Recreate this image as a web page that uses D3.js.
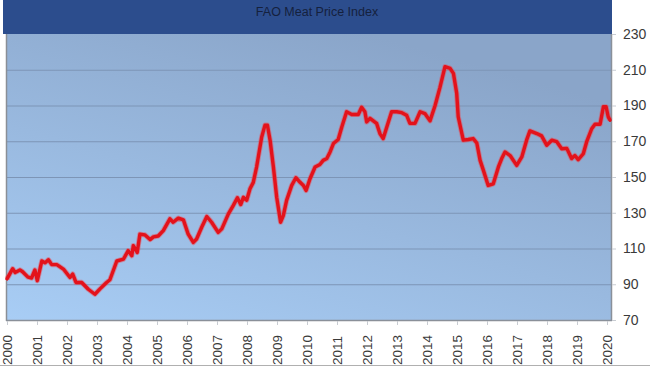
<!DOCTYPE html>
<html><head><meta charset="utf-8">
<script src="https://cdn.jsdelivr.net/npm/d3@7"></script>
<style>body{margin:0;background:#fff;}svg{display:block;}</style>
</head><body>
<svg id="chart" width="650" height="366"></svg>
<script>
const title = "FAO Meat Price Index";
const yearTicks = d3.range(2000, 2021);
const valueTicks = [70, 90, 110, 130, 150, 170, 190, 210, 230];
const times = [2000.00,2000.19,2000.27,2000.43,2000.52,2000.70,2000.82,2000.93,2001.01,2001.16,2001.27,2001.38,2001.49,2001.66,2001.88,
 2002.10,2002.19,2002.30,2002.49,2002.71,2002.93,2003.10,2003.32,2003.43,2003.66,2003.88,2004.04,2004.16,2004.21,2004.34,2004.43,
 2004.60,2004.77,2004.88,2005.04,2005.21,2005.43,2005.54,2005.71,2005.88,2006.04,2006.21,2006.32,2006.49,2006.66,2006.82,2007.04,
 2007.16,2007.38,2007.54,2007.68,2007.79,2007.88,2007.99,2008.10,2008.21,2008.32,2008.49,2008.60,2008.68,2008.77,2008.88,2008.99,
 2009.12,2009.21,2009.32,2009.49,2009.63,2009.77,2009.88,2009.97,2010.10,2010.27,2010.43,2010.54,2010.66,2010.77,2010.88,2011.04,
 2011.16,2011.32,2011.49,2011.71,2011.82,2011.93,2011.99,2012.10,2012.32,2012.43,2012.54,2012.66,2012.82,2012.99,2013.16,2013.32,
 2013.43,2013.60,2013.77,2013.93,2014.10,2014.27,2014.43,2014.60,2014.77,2014.88,2014.99,2015.04,2015.21,2015.38,2015.54,2015.66,
 2015.77,2015.88,2016.04,2016.21,2016.38,2016.49,2016.60,2016.77,2016.99,2017.16,2017.32,2017.43,2017.66,2017.82,2017.99,2018.16,
 2018.32,2018.49,2018.66,2018.82,2018.93,2019.04,2019.21,2019.32,2019.49,2019.60,2019.77,2019.88,2019.97,2020.04,2020.10];
const values = [93,98.7,96.6,98,97,94,93.5,98,92,103,102,103.7,101,101,98.5,
 93.8,95.7,91,91,87.2,84.4,87.4,91,92.5,103,104,108.8,106,111.6,107.8,118,
 117.6,115,116.5,117,120,126.6,124.7,127,126,118,113.4,115.3,121.9,127.9,124.7,119,
 121,129.4,134,138.4,134.6,138.6,137,143.4,147,155.6,172.4,179,179,170.6,155.6,138.7,
 124.7,128.4,136.9,145.3,149.6,147,145.3,142.5,149,155.6,157,159.3,160.3,164,168.7,171,
 178,186.5,185,185,189,186.5,180.8,182.8,180,174.3,171.5,178,186.5,186.5,186,184.6,
 180,180,186.5,185.5,181.4,190,200,211.7,210.8,208,196.8,183.7,170.6,171,171.5,169,
 159.3,153.7,145.3,146.2,155.6,160.3,164,162,156.5,161.2,170.6,175.8,174.3,173,167.8,170.6,
 169.8,165.8,166,160.3,162,159.7,163,169.6,177,179.5,179.5,189.3,189.3,183.7,181.8];

const svg = d3.select("#chart");
const L = 7, R = 611, T = 34, B = 320;
const x = d3.scaleLinear().domain([2000, 2020]).range([L, 607]);
const y = d3.scaleLinear().domain([70, 230]).range([B, T]);

const defs = svg.append("defs");
const g = defs.append("linearGradient").attr("id","bg")
  .attr("x1","0").attr("y1","1").attr("x2","0.6").attr("y2","0");
g.append("stop").attr("offset","0").attr("stop-color","#a8cdf5");
g.append("stop").attr("offset","1").attr("stop-color","#8aa5c9");

svg.append("rect").attr("x",L).attr("y",T).attr("width",R-L).attr("height",B-T).attr("fill","url(#bg)");

// gridlines
svg.append("g").selectAll("line").data(valueTicks.slice(1,-1)).join("line")
  .attr("x1",L).attr("x2",R).attr("y1",d=>y(d)+0.5).attr("y2",d=>y(d)+0.5)
  .attr("stroke","#7d95b6").attr("stroke-width",1);

// borders
svg.append("line").attr("x1",L-0.5).attr("x2",L-0.5).attr("y1",T).attr("y2",B+1).attr("stroke","#8a8f96").attr("stroke-width",1.5);
svg.append("line").attr("x1",R+0.5).attr("x2",R+0.5).attr("y1",T).attr("y2",B+1).attr("stroke","#8a9099").attr("stroke-width",1.5);
svg.append("line").attr("x1",L-1).attr("x2",R+1).attr("y1",B+0.5).attr("y2",B+0.5).attr("stroke","#8a9099").attr("stroke-width",1.5);

// title band
svg.append("rect").attr("x",3).attr("y",0).attr("width",R-2).attr("height",T).attr("fill","#2c4d8d");
svg.append("text").attr("x",317).attr("y",16).attr("text-anchor","middle")
  .attr("font-family","Liberation Sans, Arial, sans-serif").attr("font-size",12.5)
  .attr("fill","#15213d").text(title);

// y axis on right
const yAxis = d3.axisRight(y).tickValues(valueTicks).tickSize(4).tickPadding(7);
const ya = svg.append("g").attr("transform",`translate(${R+1},0)`).call(yAxis);
ya.select(".domain").remove();
ya.selectAll("line").attr("stroke","#c8ccd2");
ya.selectAll("text").attr("font-family","Liberation Sans, Arial, sans-serif").attr("font-size",14).attr("fill","#3a3a3a");

// x axis
const xAxis = d3.axisBottom(x).tickValues(yearTicks).tickFormat(d3.format("d")).tickSize(4);
const xa = svg.append("g").attr("transform",`translate(0,${B+1})`).call(xAxis);
xa.select(".domain").remove();
xa.selectAll("line").attr("stroke","#c8ccd2");
xa.selectAll("text").attr("font-family","Liberation Sans, Arial, sans-serif").attr("font-size",13.5).attr("fill","#3a3a3a")
  .attr("transform","rotate(-90)").attr("text-anchor","start").attr("dy","0.35em").attr("x",-44).attr("y",0);

// bottom edge line
svg.append("line").attr("x1",0).attr("x2",650).attr("y1",365.5).attr("y2",365.5).attr("stroke","#b0b0b0");

// data line
const pts = times.map((t,i)=>[t, values[i]]);
const line = d3.line().x(d=>x(d[0])).y(d=>y(d[1]));
svg.append("path").datum(pts).attr("d",line).attr("fill","none")
  .attr("stroke","#f04048").attr("stroke-opacity",0.45).attr("stroke-width",5.2).attr("stroke-linejoin","round");
svg.append("path").datum(pts).attr("d",line).attr("fill","none")
  .attr("stroke","#e3121b").attr("stroke-width",3.4).attr("stroke-linejoin","round").attr("stroke-linecap","round");
</script>
</body></html>
